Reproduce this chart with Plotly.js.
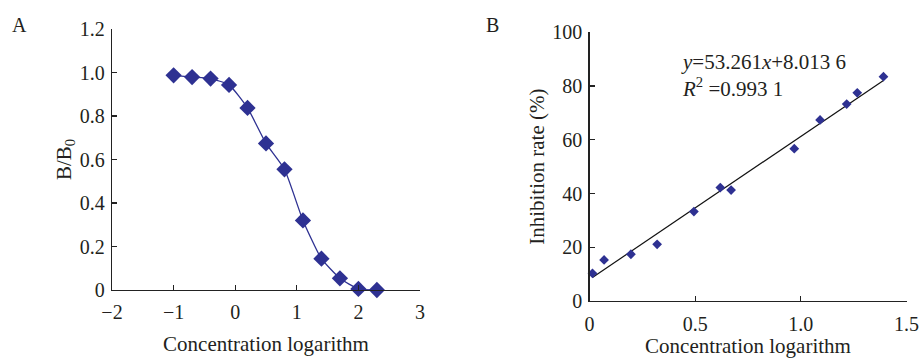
<!DOCTYPE html>
<html>
<head>
<meta charset="utf-8">
<script src="https://cdn.plot.ly/plotly-3.0.1.min.js"></script>
<style>html,body{margin:0;padding:0;background:#fff;}#chart{width:921px;height:358px;}</style>
</head>
<body>
<div id="chart"></div>
<script>
// Panel A: competitive inhibition curve
const logConcA = [-1.0, -0.7, -0.4, -0.1, 0.2, 0.5, 0.8, 1.1, 1.4, 1.7, 2.0, 2.3];
const ratioBB0 = [0.987, 0.979, 0.972, 0.943, 0.837, 0.674, 0.555, 0.320, 0.144, 0.054, 0.005, 0.0];

// Panel B: inhibition rate vs concentration logarithm
const logConcB = [0.014, 0.069, 0.196, 0.320, 0.494, 0.619, 0.670, 0.969, 1.091, 1.217, 1.267, 1.391];
const inhibition = [10.3, 15.3, 17.4, 21.1, 33.3, 42.2, 41.3, 56.7, 67.4, 73.3, 77.5, 83.5];

// Linear fit reported on the chart
const fitSlope = 53.261;
const fitIntercept = 8.0136;
const fitX = [Math.min(...logConcB), Math.max(...logConcB)];
const fitY = fitX.map(v => fitSlope * v + fitIntercept);

const xTicksA = [-2, -1, 0, 1, 2, 3];
const xTickTextA = ['\u22122', '\u22121', '0', '1', '2', '3'];
const yTicksA = [0, 0.2, 0.4, 0.6, 0.8, 1.0, 1.2];
const yTickTextA = ['0', '0.2', '0.4', '0.6', '0.8', '1.0', '1.2'];
const xTicksB = [0, 0.5, 1.0, 1.5];
const xTickTextB = ['0', '0.5', '1.0', '1.5'];
const yTicksB = [0, 20, 40, 60, 80, 100];

const blue = '#2e3192';
const ink = '#231f20';
const FONT = 'Liberation Serif, Times New Roman, serif';

const traces = [
  {
    x: logConcA, y: ratioBB0, xaxis: 'x', yaxis: 'y',
    type: 'scatter', mode: 'lines+markers',
    line: {color: blue, width: 1.3, shape: 'spline', smoothing: 0.5},
    marker: {symbol: 'diamond', size: 12.5, color: blue},
    cliponaxis: false, showlegend: false, hoverinfo: 'x+y'
  },
  {
    x: fitX, y: fitY, xaxis: 'x2', yaxis: 'y2',
    type: 'scatter', mode: 'lines',
    line: {color: '#111', width: 1.2},
    showlegend: false, hoverinfo: 'skip'
  },
  {
    x: logConcB, y: inhibition, xaxis: 'x2', yaxis: 'y2',
    type: 'scatter', mode: 'markers',
    marker: {symbol: 'diamond', size: 7.5, color: blue},
    cliponaxis: false, showlegend: false, hoverinfo: 'x+y'
  }
];

const W = 921, H = 358;
const px = v => v / W, py = v => (H - v) / H;

const axisCommon = {
  showgrid: false, zeroline: false, showline: true,
  linecolor: '#222', linewidth: 1.2,
  ticks: 'inside', ticklen: 5, tickwidth: 1.2, tickcolor: '#222',
  tickfont: {family: FONT, size: 20, color: ink},
  fixedrange: true
};

const layout = {
  width: W, height: H,
  margin: {l: 0, r: 0, t: 0, b: 0},
  paper_bgcolor: '#fff', plot_bgcolor: '#fff',
  font: {family: FONT, color: ink},
  xaxis: Object.assign({}, axisCommon, {
    domain: [px(112), px(420)], range: [-2, 3], anchor: 'y',
    tickvals: xTicksA, ticktext: xTickTextA, ticklabelstandoff: 4,
    title: {text: 'Concentration logarithm', font: {family: FONT, size: 21, color: ink}, standoff: 14}
  }),
  yaxis: Object.assign({}, axisCommon, {
    domain: [py(290), py(29)], range: [0, 1.2], anchor: 'x',
    tickvals: yTicksA, ticktext: yTickTextA, ticklabelstandoff: 2,
    title: {text: 'B/B<sub>0</sub>', font: {family: FONT, size: 21, color: ink}, standoff: 2}
  }),
  xaxis2: Object.assign({}, axisCommon, {
    domain: [px(589.5), px(906.5)], range: [0, 1.5], anchor: 'y2',
    tickvals: xTicksB, ticktext: xTickTextB, ticklabelstandoff: 5,
    title: {text: 'Concentration logarithm', font: {family: FONT, size: 21, color: ink}, standoff: 8}
  }),
  yaxis2: Object.assign({}, axisCommon, {
    domain: [py(301), py(32.3)], range: [0, 100], anchor: 'x2',
    tickvals: yTicksB, ticklabelstandoff: 2,
    title: {text: 'Inhibition rate (%)', font: {family: FONT, size: 21, color: ink}, standoff: 2}
  }),
  annotations: [
    {text: 'A', xref: 'paper', yref: 'paper', x: px(10), y: py(12), xanchor: 'left', yanchor: 'top',
     showarrow: false, font: {family: FONT, size: 20, color: ink}},
    {text: 'B', xref: 'paper', yref: 'paper', x: px(484), y: py(12), xanchor: 'left', yanchor: 'top',
     showarrow: false, font: {family: FONT, size: 20, color: ink}},
    {text: '<i>y</i>=53.261<i>x</i>+8.013 6<br><i>R</i><sup>2</sup> =0.993 1',
     xref: 'x2', yref: 'y2', x: 0.425, y: 94, xanchor: 'left', yanchor: 'top', align: 'left',
     showarrow: false, font: {family: FONT, size: 21, color: ink}}
  ]
};

Plotly.newPlot('chart', traces, layout, {displayModeBar: false, staticPlot: true});
</script>
</body>
</html>
